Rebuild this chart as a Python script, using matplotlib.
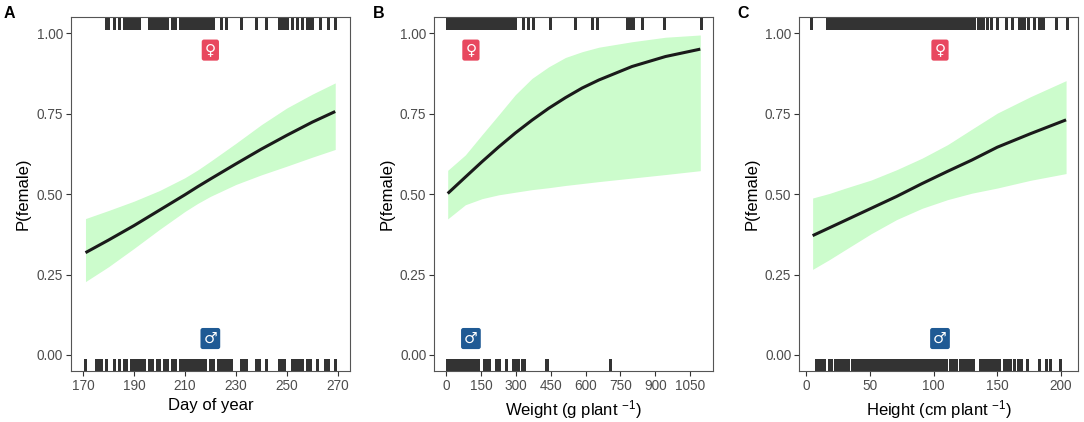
import matplotlib
matplotlib.use("Agg")
import matplotlib.pyplot as plt
import matplotlib.transforms as mtransforms

plt.rcParams['font.family'] = ['Liberation Sans', 'DejaVu Sans']
plt.rcParams['mathtext.fontset'] = 'custom'
plt.rcParams['mathtext.rm'] = 'Liberation Sans'
plt.rcParams['mathtext.it'] = 'Liberation Sans:italic'

# Panel A - day of year
day_x = [171, 180, 190, 200, 210, 215, 220, 230, 240, 250, 260, 269]
day_fit = [0.318, 0.357, 0.402, 0.450, 0.498, 0.523, 0.547, 0.594, 0.640, 0.683, 0.724, 0.757]
day_hi = [0.424, 0.449, 0.478, 0.511, 0.551, 0.575, 0.602, 0.658, 0.716, 0.768, 0.811, 0.846]
day_lo = [0.228, 0.274, 0.331, 0.390, 0.446, 0.471, 0.493, 0.530, 0.560, 0.587, 0.615, 0.639]
day_female = [179, 180, 182, 184, 186, 187, 188, 189, 190, 191, 192, 196, 197, 198,
              199, 200, 201, 202, 203, 205, 206, 208, 209, 210, 211, 212, 213, 214,
              215, 216, 217, 218, 219, 220, 221, 224, 226, 232, 238, 242, 247, 248,
              249, 250, 252, 254, 256, 258, 259, 260, 263, 266, 269]
day_male = [171, 175, 176, 177, 179, 182, 184, 186, 187, 189, 190, 191, 192, 193,
            194, 196, 197, 199, 200, 202, 203, 205, 206, 208, 209, 210, 211, 212,
            213, 214, 215, 216, 217, 218, 220, 221, 223, 224, 225, 226, 227, 228,
            232, 233, 234, 238, 239, 242, 247, 248, 249, 252, 253, 254, 255, 256,
            258, 259, 262, 265, 266, 269]

# Panel B - weight
wt_x = [6, 82, 154, 226, 297, 369, 441, 513, 585, 657, 800, 944, 1094]
wt_fit = [0.502, 0.553, 0.601, 0.647, 0.690, 0.730, 0.767, 0.800, 0.830, 0.855, 0.897, 0.928, 0.951]
wt_hi = [0.574, 0.622, 0.685, 0.747, 0.809, 0.860, 0.896, 0.925, 0.943, 0.957, 0.974, 0.988, 0.995]
wt_lo = [0.423, 0.467, 0.486, 0.498, 0.506, 0.514, 0.520, 0.527, 0.533, 0.539, 0.550, 0.561, 0.573]
wt_female = [2, 6, 10, 15, 19, 23, 28, 33, 37, 41, 46, 50, 55, 59, 63, 68, 72, 77, 81,
             86, 90, 95, 99, 104, 108, 113, 117, 122, 126, 131, 135, 140, 144, 149,
             153, 158, 162, 167, 171, 176, 180, 185, 189, 194, 198, 203, 207, 212,
             216, 221, 225, 230, 238, 247, 259, 268, 281, 294, 332, 353, 375, 447,
             554, 629, 651, 777, 791, 806, 842, 938, 1095]
wt_male = [1, 5, 9, 13, 17, 21, 26, 30, 34, 38, 43, 47, 51, 55, 60, 64, 68, 72, 77,
           81, 85, 89, 94, 98, 102, 106, 111, 115, 119, 123, 128, 132, 136, 163,
           170, 178, 186, 212, 219, 227, 256, 259, 286, 292, 299, 305, 309, 327,
           333, 428, 432, 706]

# Panel C - height
ht_x = [5, 18, 31, 51, 71, 91, 111, 130, 150, 176, 204]
ht_fit = [0.371, 0.395, 0.419, 0.456, 0.493, 0.533, 0.571, 0.606, 0.646, 0.688, 0.731]
ht_hi = [0.488, 0.502, 0.519, 0.544, 0.576, 0.612, 0.654, 0.702, 0.752, 0.803, 0.853]
ht_lo = [0.266, 0.296, 0.328, 0.377, 0.421, 0.456, 0.483, 0.503, 0.519, 0.543, 0.564]
ht_female = [4, 16, 17.5, 19, 20.5, 22, 23.5, 25, 26.5, 28, 29.5, 31, 32.5, 34, 35.5,
             37, 38.5, 40, 41.5, 43, 44.5, 46, 47.5, 49, 50.5, 52, 53.5, 55, 56.5,
             58, 59.5, 61, 62.5, 64, 65.5, 67, 68.5, 70, 71.5, 73, 74.5, 76, 77.5,
             79, 80.5, 82, 83.5, 85, 86.5, 88, 89.5, 91, 92.5, 94, 95.5, 97, 98.5,
             100, 101.5, 103, 104.5, 106, 107.5, 109, 110.5, 112, 113.5, 115, 116.5,
             118, 119.5, 121, 122.5, 124, 125.5, 127, 128.5, 130, 132, 135, 137,
             139, 142, 145, 150, 157, 161.5, 167, 169, 171, 174, 178.5, 182.5, 184,
             186, 196, 204.5]
ht_male = [8, 10, 12, 14, 17.5, 19.5, 22.5, 24.5, 26.5, 28.5, 30.5, 32.5, 36, 37.5,
           39, 40.5, 42, 43.5, 45, 46.5, 48, 49.5, 51, 52.5, 54, 55.5, 57, 58.5, 60,
           61.5, 63, 64.5, 66, 67.5, 69, 70.5, 72, 73.5, 75, 76.5, 78, 79.5, 81,
           82.5, 84, 85.5, 87, 88.5, 90, 91.5, 93, 94.5, 96, 97.5, 99, 100.5, 102,
           103.5, 105, 106.5, 108, 110, 113, 115, 117.5, 121, 123, 125, 127, 129,
           131, 136.5, 138.5, 141, 143, 145, 147, 149, 151, 155, 157.5, 160, 163,
           166, 169, 173, 183, 188, 191, 199]

panels = [
    dict(tag='A', x=day_x, fit=day_fit, hi=day_hi, lo=day_lo, fem=day_female,
         mal=day_male, xlim=(165.2, 274.8), xticks=[170, 190, 210, 230, 250, 270],
         lab_x=220, xlabel='Day of year', left=70.7, tag_x=4),
    dict(tag='B', x=wt_x, fit=wt_fit, hi=wt_hi, lo=wt_lo, fem=wt_female,
         mal=wt_male, xlim=(-53, 1150), xticks=[0, 150, 300, 450, 600, 750, 900, 1050],
         lab_x=106, xlabel='Weight (g plant $^{-1}$)', left=434, tag_x=373),
    dict(tag='C', x=ht_x, fit=ht_fit, hi=ht_hi, lo=ht_lo, fem=ht_female,
         mal=ht_male, xlim=(-5.7, 213.6), xticks=[0, 50, 100, 150, 200],
         lab_x=105, xlabel='Height (cm plant $^{-1}$)', left=799, tag_x=737),
]

W, H = 1084, 422
fig = plt.figure(figsize=(W / 100, H / 100), dpi=100)

for p in panels:
    ax = fig.add_axes([p['left'] / W, (H - 371) / H, 279.3 / W, 353.7 / H])
    ax.fill_between(p['x'], p['lo'], p['hi'], color='#ccfccc', lw=0)
    ax.plot(p['x'], p['fit'], color='#1a1a1a', lw=2.2, solid_capstyle='butt',
            solid_joinstyle='round')

    # rugs: females on top, males at the bottom
    trans = mtransforms.blended_transform_factory(ax.transData, ax.transAxes)
    ax.vlines(p['fem'], 0.966, 1.0, transform=trans, color='#333333', lw=1.9,
              antialiased=False)
    ax.vlines(p['mal'], 0.0, 0.034, transform=trans, color='#333333', lw=1.9,
              antialiased=False)

    ax.text(p['lab_x'], 0.948, '\u2640', ha='center', va='center', color='white',
            fontsize=11, family='DejaVu Sans',
            bbox=dict(boxstyle='round,pad=0.2,rounding_size=0.15', fc='#e8485f', ec='none'))
    ax.text(p['lab_x'], 0.051, '\u2642', ha='center', va='center', color='white',
            fontsize=11, family='DejaVu Sans',
            bbox=dict(boxstyle='round,pad=0.2,rounding_size=0.15', fc='#1f5a94', ec='none'))

    ax.set_xlim(*p['xlim'])
    ax.set_ylim(-0.05, 1.05)
    ax.set_xticks(p['xticks'])
    ax.set_yticks([0, 0.25, 0.5, 0.75, 1.0])
    ax.set_yticklabels(['0.00', '0.25', '0.50', '0.75', '1.00'])
    ax.tick_params(colors='#333333', labelcolor='#4d4d4d', labelsize=9.8,
                   length=3.5, width=0.8, pad=2)
    for s in ax.spines.values():
        s.set_color('#555555')
        s.set_linewidth(0.8)
    ax.set_xlabel(p['xlabel'], fontsize=12, labelpad=4)
    ax.set_ylabel('P(female)', fontsize=12, labelpad=4)

    fig.text(p['tag_x'] / W, 1 - 13 / H, p['tag'], fontsize=11.5,
             fontweight='bold', ha='left', va='center')

fig.savefig('out.png', dpi=100)
